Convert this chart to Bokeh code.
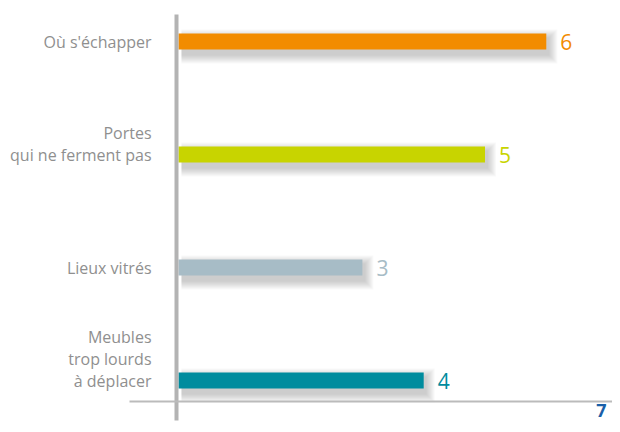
from bokeh.plotting import figure
from bokeh.models import ColumnDataSource, Range1d
from bokeh.core.properties import value
from bokeh.embed import file_html
from bokeh.resources import INLINE

categories = ["Où s'échapper", "Portes\nqui ne ferment pas", "Lieux vitrés", "Meubles\ntrop lourds\nà déplacer"]
values = [6, 5, 3, 4]
colors = ["#f28c00", "#c8d400", "#a7bcc6", "#008c9e"]
axis_max = 7

W, H = 612, 424
PX_X = 61.3     # pixels per unit
PX_Y = 113.0    # pixels per category step
X0_PIX = 178.0  # canvas x of value 0
Y_TOP_PIX = 41.0

xs = -X0_PIX / PX_X
xe = xs + W / PX_X
n = len(categories)
ys_top = (n - 1) + Y_TOP_PIX / PX_Y
ys_bot = ys_top - H / PX_Y

p = figure(width=W, height=H, output_backend="svg", toolbar_location=None,
           x_range=Range1d(xs, xe), y_range=Range1d(ys_bot, ys_top),
           min_border=0, outline_line_color=None)
p.axis.visible = False
p.grid.visible = False
p.background_fill_color = "white"
p.border_fill_color = "white"

ypos = [n - 1 - i for i in range(n)]
bar_h = 16 / PX_Y
px_x = 1 / PX_X
px_y = 1 / PX_Y

# soft shadows
for k in range(1, 10):
    p.hbar(y=[y - 5 * px_y for y in ypos], left=[3 * px_x] * n,
           right=[v + (2 + k) * px_x for v in values],
           height=bar_h + 2 * k * px_y, color="#555555", alpha=0.036, line_color=None)

src = ColumnDataSource(dict(y=ypos, v=values, c=colors, lbl=[str(v) for v in values]))
p.hbar(y="y", left=0, right="v", height=bar_h, color="c", line_color=None, source=src)

# axis lines
p.segment(x0=[-2 * px_x], y0=[ys_top - 14 * px_y], x1=[-2 * px_x], y1=[ys_top - 420 * px_y],
          line_color="#b3b3b3", line_width=4)
base_y = ys_top - 401 * px_y
p.segment(x0=[xs + 129 * px_x], y0=[base_y], x1=[xe], y1=[base_y], line_color="#bbbbbb", line_width=2)

# value labels
p.text(x="v", y="y", text="lbl", text_color="c", source=src, x_offset=14,
       text_align="left", text_baseline="middle", text_font=value("Open Sans"), text_font_size="21px")

# category labels (last line aligned to bar)
lx, ly, lt = [], [], []
for cat, y in zip(categories, ypos):
    lines = cat.split("\n")
    for k, line in enumerate(reversed(lines)):
        lx.append(-27 * px_x)
        ly.append(y + k * 22 * px_y)
        lt.append(line)
p.text(x=lx, y=ly, text=lt, text_color="#8f8f8f", text_align="right", text_baseline="middle",
       text_font=value("Open Sans"), text_font_size="16px")

# axis max label
p.text(x=[xe], y=[base_y], text=[str(axis_max)], x_offset=-6, y_offset=9,
       text_color="#1a5fa8", text_align="right", text_baseline="middle",
       text_font=value("Open Sans"), text_font_size="18px", text_font_style="bold")

open("out.html", "w").write(file_html(p, INLINE))
